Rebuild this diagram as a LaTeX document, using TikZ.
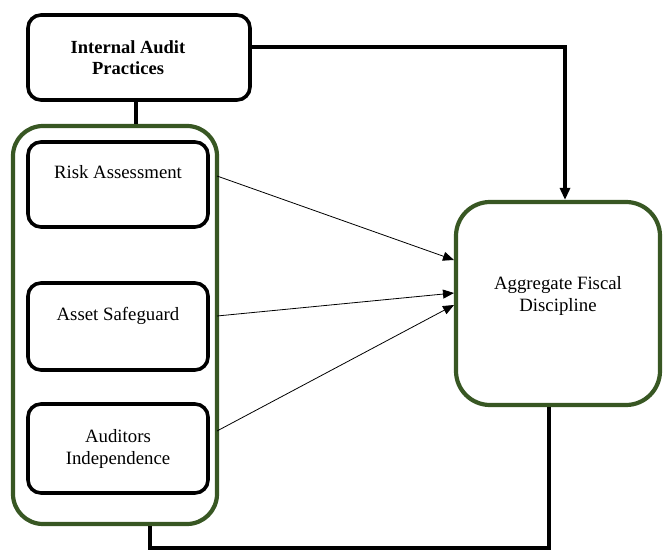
\documentclass[tikz,border=0pt]{standalone}
\usepackage{fontspec}
\setmainfont{Liberation Serif}
\usetikzlibrary{arrows.meta}
\definecolor{dgreen}{RGB}{56,87,35}
\begin{document}
\begin{tikzpicture}[x=1pt,y=-1pt,
  blackbox/.style={draw=black,line width=3.6pt,rounded corners=13pt,fill=white,inner sep=0pt},
  greenbox/.style={draw=dgreen,line width=4.2pt,fill=white,inner sep=0pt},
  lbl/.style={font=\fontsize{18.8}{22}\selectfont,align=center,inner sep=0pt},
  thick conn/.style={line width=3.3pt},
  thin conn/.style={line width=0.8pt,-{Triangle[length=11pt,width=9pt]}}]
\useasboundingbox (0,0) rectangle (664,551);
% Internal Audit Practices
\node[blackbox,minimum width=222pt,minimum height=85pt] (ia) at (139,57.5) {};
\node[lbl,font=\fontsize{18.5}{21}\selectfont\bfseries] (iat) at (128,58) {Internal Audit\\Practices};
% group
\node[greenbox,rounded corners=30pt,minimum width=204pt,minimum height=398pt] (grp) at (115,325) {};
% inner boxes
\node[blackbox,minimum width=180pt,minimum height=85pt] (ra) at (118,184.5) {};
\node[lbl] (rat) at (118,172) {Risk Assessment};
\node[blackbox,minimum width=180pt,minimum height=87pt] (as) at (118,326.5) {};
\node[lbl] (ast) at (118,316) {Asset Safeguard};
\node[blackbox,minimum width=180pt,minimum height=89pt] (ai) at (118,448.5) {};
\node[lbl] (ait) at (118,449) {Auditors\\Independence};
% Aggregate
\node[greenbox,rounded corners=34pt,minimum width=204pt,minimum height=203pt] (agg) at (558,303.5) {};
\node[lbl] (aggt) at (558,296) {Aggregate Fiscal\\Discipline};
% connectors
\coordinate (tr) at (565,47);
\coordinate (bl) at (150,548);
\coordinate (br) at (549,548);
\draw[thick conn] ([xshift=-3pt]ia.south) -- ([xshift=-3pt]ia.south |- grp.north);
\draw[thick conn,-{Triangle[length=12pt,width=10pt]}] (ia.east |- tr) -- (tr) -- (tr |- agg.north);
\draw[thick conn] (bl |- grp.south) -- (bl) -- (br) -- (br |- agg.south);
\draw[thin conn] (217,176) -- (454,260);
\draw[thin conn] (217,316) -- (454,293);
\draw[thin conn] (217,431) -- (454,305);
\end{tikzpicture}
\end{document}
